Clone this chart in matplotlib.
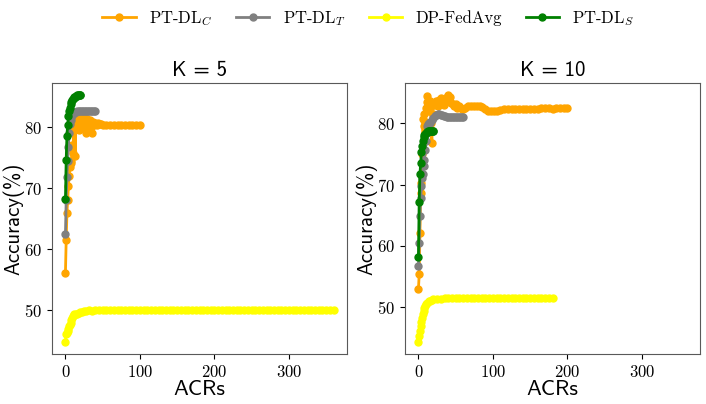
import numpy as np
import matplotlib
matplotlib.use("Agg")
import matplotlib.pyplot as plt

plt.rcParams["font.family"] = "cmr10"
plt.rcParams["mathtext.fontset"] = "cm"
plt.rcParams["axes.formatter.use_mathtext"] = True

# ---- K = 5 ----
x_c5 = [0, 1, 2, 3, 4, 5, 6, 7, 8, 9, 10, 11, 12, 13, 14, 15, 16, 17, 18, 19, 20,
        21, 22, 23, 24, 25, 26, 27, 28, 29, 30, 31, 32, 33, 34, 35, 36, 37, 38, 40,
        42, 44, 46, 48, 50, 55, 60, 65, 70, 75, 80, 85, 90, 95, 100]
y_c5 = [56.2, 61.5, 65.9, 68.0, 70.4, 72.0, 73.5, 74.1, 74.5, 77.0, 75.7, 79.5, 80.0,
        75.3, 80.2, 79.9, 80.5, 81.2, 79.6, 80.8, 81.6, 82.0, 80.3, 79.8, 81.5, 82.2,
        80.6, 79.1, 80.9, 81.4, 80.2, 79.5, 80.9, 81.1, 80.0, 79.0, 80.7, 80.8, 80.3,
        80.6, 80.4, 80.7, 80.5, 80.5, 80.4, 80.3, 80.4, 80.3, 80.4, 80.3, 80.3, 80.3,
        80.4, 80.3, 80.3]

x_t5 = [0, 1, 2, 3, 4, 5, 6, 7, 8, 9, 10, 11, 12, 14, 16, 18, 20, 22, 24, 26, 28,
        30, 32, 34, 36, 38, 40]
y_t5 = [62.5, 68.0, 71.9, 74.5, 76.8, 79.0, 80.5, 81.1, 81.6, 81.9, 82.1, 82.3, 82.4,
        82.5, 82.6, 82.6, 82.7, 82.6, 82.7, 82.7, 82.7, 82.7, 82.6, 82.7, 82.6, 82.6,
        82.6]

x_f5 = [0, 1, 2, 3, 4, 5, 6, 7, 8, 9, 10, 11, 12, 14, 16, 18, 20, 22, 25, 28, 31,
        35, 40, 45, 50, 55, 60, 65, 70, 75, 80, 85, 90, 95, 100, 105, 110, 115, 120,
        125, 130, 135, 140, 145, 150, 155, 160, 165, 170, 175, 180, 185, 190, 195,
        200, 205, 210, 215, 220, 225, 230, 235, 240, 245, 250, 255, 260, 265, 270,
        275, 280, 285, 290, 295, 300, 305, 310, 315, 320, 325, 330, 335, 340, 345,
        350, 355, 360]
y_f5 = [44.9, 46.2, 46.3, 46.6, 47.0, 47.4, 47.7, 48.0, 48.4, 48.8, 49.1, 49.3, 49.4,
        49.4, 49.5, 49.6, 49.7, 49.8, 49.9, 49.9, 50.0, 49.9, 50.0, 50.0, 50.0, 50.0,
        50.0, 50.0, 50.0, 50.0, 50.0, 50.0, 50.0, 50.0, 50.0, 50.0, 50.0, 50.0, 50.0,
        50.0, 50.0, 50.0, 50.0, 50.0, 50.0, 50.0, 50.0, 50.0, 50.0, 50.0, 50.0, 50.0,
        50.0, 50.0, 50.0, 50.0, 50.0, 50.0, 50.0, 50.0, 50.0, 50.0, 50.0, 50.0, 50.0,
        50.0, 50.0, 50.0, 50.0, 50.0, 50.0, 50.0, 50.0, 50.0, 50.0, 50.0, 50.0, 50.0,
        50.0, 50.0, 50.0, 50.0, 50.0, 50.0, 50.0, 50.0, 50.0]

x_s5 = [0, 1, 2, 3, 4, 5, 6, 7, 8, 9, 10, 11, 12, 13, 14, 15, 16, 17, 18, 19, 20]
y_s5 = [68.2, 74.6, 78.6, 80.4, 81.8, 82.6, 83.2, 83.7, 84.1, 84.4, 84.6, 84.8, 84.9,
        85.0, 85.1, 85.1, 85.2, 85.2, 85.2, 85.2, 85.2]

# ---- K = 10 ----
x_c10 = [0, 1, 2, 3, 4, 5, 6, 7, 8, 9, 10, 11, 12, 13, 14, 15, 16, 17, 18, 19, 20,
         22, 24, 26, 28, 30, 32, 34, 36, 38, 40, 42, 44, 46, 48, 50, 52, 55, 58, 60,
         63, 66, 70, 74, 78, 82, 86, 90, 94, 98, 102, 106, 110, 115, 120, 125, 130,
         135, 140, 145, 150, 155, 160, 165, 170, 175, 180, 185, 190, 195, 200]
y_c10 = [52.9, 55.3, 62.0, 68.7, 70.2, 75.0, 80.7, 79.5, 81.5, 80.3, 82.5, 83.5, 84.5,
         82.0, 83.0, 83.6, 82.6, 80.0, 76.8, 81.5, 83.3, 83.0, 83.6, 82.8, 83.9, 84.2,
         83.5, 83.0, 83.8, 84.4, 84.6, 84.3, 83.4, 83.2, 82.9, 83.1, 82.6, 82.9, 82.3,
         82.3, 82.5, 82.8, 82.9, 82.9, 82.8, 82.9, 82.7, 82.3, 82.1, 82.0, 82.1, 82.0,
         82.2, 82.3, 82.3, 82.3, 82.4, 82.4, 82.4, 82.4, 82.4, 82.4, 82.4, 82.5, 82.5,
         82.5, 82.4, 82.5, 82.5, 82.5, 82.5]

x_t10 = [0, 1, 2, 3, 4, 5, 6, 7, 8, 9, 10, 11, 12, 13, 14, 15, 16, 18, 20, 22, 24,
         26, 28, 30, 32, 34, 36, 38, 40, 42, 44, 46, 48, 50, 52, 54, 56, 58, 60]
y_t10 = [56.6, 60.5, 64.8, 67.8, 69.8, 71.0, 71.8, 73.0, 74.0, 75.6, 77.2, 78.5, 79.6,
         79.9, 80.0, 80.1, 80.2, 80.6, 80.9, 81.2, 81.4, 81.5, 81.6, 81.4, 81.3, 81.2,
         81.2, 81.1, 81.1, 81.0, 81.1, 81.1, 81.0, 81.0, 81.1, 81.0, 81.0, 81.0, 81.0]

x_f10 = [0, 1, 2, 3, 4, 5, 6, 7, 8, 9, 10, 12, 14, 16, 18, 20, 25, 30, 35, 40, 45,
         50, 55, 60, 65, 70, 75, 80, 85, 90, 95, 100, 105, 110, 115, 120, 125, 130,
         135, 140, 145, 150, 155, 160, 165, 170, 175, 180]
y_f10 = [44.3, 45.2, 46.0, 46.8, 47.5, 48.2, 48.8, 49.3, 49.8, 50.2, 50.4, 50.7, 50.9,
         51.0, 51.1, 51.2, 51.3, 51.3, 51.4, 51.4, 51.4, 51.5, 51.5, 51.5, 51.5, 51.5,
         51.5, 51.5, 51.5, 51.5, 51.5, 51.5, 51.5, 51.5, 51.5, 51.5, 51.5, 51.5, 51.5,
         51.5, 51.5, 51.5, 51.5, 51.5, 51.5, 51.5, 51.5, 51.5]

x_s10 = [0, 1, 2, 3, 4, 5, 6, 7, 8, 9, 10, 11, 12, 13, 14, 15, 16, 17, 18, 19, 20]
y_s10 = [58.2, 67.2, 71.7, 73.5, 75.3, 76.3, 77.2, 77.8, 78.1, 78.3, 78.5, 78.6, 78.6,
         78.7, 78.7, 78.7, 78.7, 78.7, 78.7, 78.7, 78.7]

labels = [r"PT-DL$_C$", r"PT-DL$_T$", "DP-FedAvg", r"PT-DL$_S$"]
colors = ["orange", "gray", "yellow", "green"]
titles = ["K = 5", "K = 10"]

panels = [
    [(x_c5, y_c5), (x_t5, y_t5), (x_f5, y_f5), (x_s5, y_s5)],
    [(x_c10, y_c10), (x_t10, y_t10), (x_f10, y_f10), (x_s10, y_s10)],
]

fig = plt.figure(figsize=(7.06, 4.04), dpi=100)
ax1 = fig.add_axes([0.0737, 0.1238, 0.4178, 0.6708])
ax2 = fig.add_axes([0.5737, 0.1238, 0.4178, 0.6708], sharex=ax1)

for ax, series, title in zip([ax1, ax2], panels, titles):
    for (xs, ys), col, lab in zip(series, colors, labels):
        ax.plot(np.array(xs), np.array(ys), color=col, marker="o", markersize=5,
                linewidth=2, label=lab)
    ax.set_title(title, fontsize=15, pad=5, family="cmss10")
    ax.set_xlabel("ACRs", fontsize=16, labelpad=0, family="cmss10")
    ax.set_ylabel("Accuracy(%)", fontsize=15, family="cmss10")
    ax.yaxis.set_label_coords(-0.095, 0.5)
    ax.set_xticks([0, 100, 200, 300])
    ax.set_yticks([50, 60, 70, 80])
    ax.tick_params(labelsize=12)
    for sp in ax.spines.values():
        sp.set_color("0.35")

handles, labs = ax1.get_legend_handles_labels()
fig.legend(handles, labs, loc="center", bbox_to_anchor=(0.522, 0.955), ncol=4,
           frameon=False, fontsize=12, handlelength=2.0, columnspacing=1.4)

fig.savefig("out.png", dpi=100)
